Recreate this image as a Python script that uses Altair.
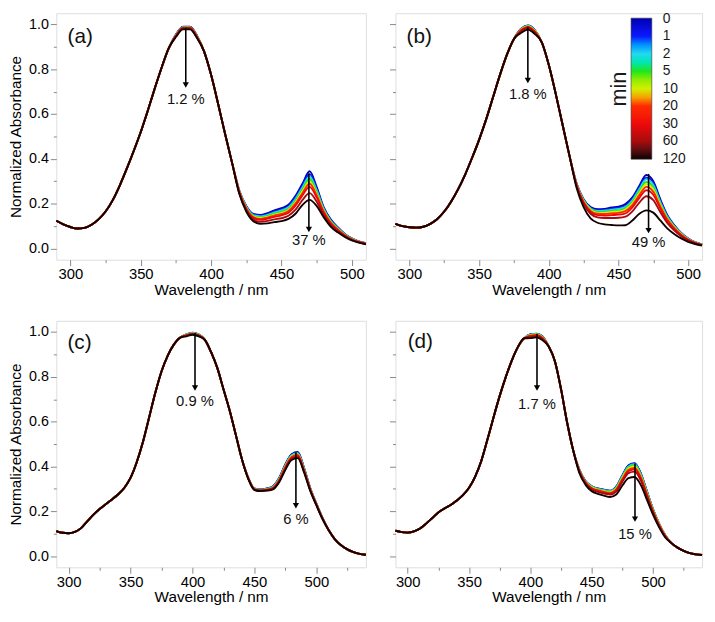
import altair as alt
import pandas as pd

FONT = "Liberation Sans"

TIMES = [0, 1, 2, 5, 10, 20, 30, 60, 120]
TIME_LABELS = ["0", "1", "2", "5", "10", "20", "30", "60", "120"]
COLORS = ["#0000b4", "#0a1aff", "#22d8f0", "#1ee61e", "#d2f000",
          "#ff2a00", "#ee0a0a", "#a80c0c", "#140000"]

# ---------------- panel (a) ----------------
WL_A = list(range(290, 515, 5))
BASE_A = [0.124, 0.108, 0.096, 0.089, 0.092, 0.106, 0.130, 0.165, 0.215, 0.280,
          0.355, 0.435, 0.520, 0.615, 0.715, 0.810, 0.895, 0.955, 0.990, 0.990,
          0.950, 0.880, 0.775, 0.645, 0.510, 0.380, 0.260, 0.190, 0.155, 0.150,
          0.158, 0.170, 0.180, 0.195, 0.235, 0.290, 0.345, 0.275, 0.185, 0.130,
          0.095, 0.065, 0.045, 0.032, 0.024]
PEAK_WL_A = [375, 380, 385, 390]
PEAK_A = {
    0: [0.955, 0.990, 0.990, 0.950],
    1: [0.954, 0.989, 0.989, 0.949],
    2: [0.953, 0.988, 0.988, 0.948],
    5: [0.952, 0.987, 0.987, 0.947],
    10: [0.951, 0.986, 0.986, 0.946],
    20: [0.950, 0.985, 0.985, 0.945],
    30: [0.949, 0.984, 0.984, 0.944],
    60: [0.947, 0.982, 0.982, 0.942],
    120: [0.944, 0.978, 0.978, 0.939],
}
BAND_WL_A = list(range(420, 515, 5))
BAND_A = {
    0: [0.260, 0.190, 0.155, 0.150, 0.158, 0.170, 0.180, 0.195, 0.235, 0.290, 0.345, 0.275, 0.185, 0.130, 0.095, 0.065, 0.045, 0.032, 0.024],
    1: [0.258, 0.188, 0.152, 0.146, 0.153, 0.165, 0.174, 0.189, 0.227, 0.281, 0.332, 0.267, 0.181, 0.127, 0.093, 0.064, 0.044, 0.031, 0.024],
    2: [0.257, 0.186, 0.149, 0.143, 0.150, 0.161, 0.170, 0.184, 0.221, 0.273, 0.322, 0.260, 0.177, 0.124, 0.091, 0.063, 0.043, 0.031, 0.023],
    5: [0.256, 0.183, 0.146, 0.139, 0.146, 0.156, 0.164, 0.178, 0.213, 0.264, 0.310, 0.252, 0.173, 0.121, 0.089, 0.061, 0.043, 0.030, 0.023],
    10: [0.255, 0.181, 0.143, 0.136, 0.141, 0.151, 0.159, 0.172, 0.206, 0.256, 0.299, 0.244, 0.169, 0.118, 0.087, 0.060, 0.042, 0.030, 0.022],
    20: [0.253, 0.179, 0.140, 0.132, 0.138, 0.147, 0.154, 0.167, 0.200, 0.248, 0.289, 0.238, 0.165, 0.116, 0.085, 0.059, 0.041, 0.029, 0.022],
    30: [0.252, 0.176, 0.137, 0.128, 0.133, 0.141, 0.148, 0.160, 0.191, 0.238, 0.275, 0.228, 0.160, 0.112, 0.082, 0.058, 0.040, 0.029, 0.021],
    60: [0.248, 0.171, 0.130, 0.119, 0.123, 0.130, 0.135, 0.146, 0.173, 0.217, 0.247, 0.210, 0.150, 0.105, 0.077, 0.055, 0.038, 0.027, 0.020],
    120: [0.245, 0.165, 0.122, 0.110, 0.112, 0.118, 0.122, 0.132, 0.155, 0.195, 0.217, 0.190, 0.140, 0.098, 0.072, 0.052, 0.036, 0.026, 0.019],
}

# ---------------- panel (b) ----------------
WL_B = list(range(290, 515, 5))
BASE_B = [0.110, 0.100, 0.095, 0.093, 0.097, 0.110, 0.132, 0.165, 0.210, 0.265,
          0.330, 0.405, 0.485, 0.575, 0.675, 0.775, 0.865, 0.935, 0.980, 0.995,
          0.975, 0.920, 0.820, 0.690, 0.550, 0.410, 0.290, 0.220, 0.185, 0.175,
          0.177, 0.183, 0.187, 0.198, 0.228, 0.280, 0.328, 0.300, 0.220, 0.150,
          0.105, 0.070, 0.045, 0.028, 0.018]
PEAK_WL_B = [380, 385, 390]
PEAK_B = {
    0: [0.980, 0.995, 0.975],
    1: [0.979, 0.994, 0.974],
    2: [0.978, 0.993, 0.973],
    5: [0.977, 0.992, 0.972],
    10: [0.976, 0.991, 0.971],
    20: [0.974, 0.989, 0.969],
    30: [0.972, 0.987, 0.967],
    60: [0.969, 0.984, 0.964],
    120: [0.962, 0.977, 0.957],
}
BAND_WL_B = list(range(420, 515, 5))
BAND_B = {
    0: [0.290, 0.220, 0.185, 0.175, 0.177, 0.183, 0.187, 0.198, 0.228, 0.280, 0.328, 0.300, 0.220, 0.150, 0.105, 0.070, 0.045, 0.028, 0.018],
    1: [0.289, 0.217, 0.181, 0.171, 0.172, 0.177, 0.181, 0.191, 0.220, 0.271, 0.316, 0.290, 0.213, 0.146, 0.102, 0.068, 0.044, 0.027, 0.018],
    2: [0.288, 0.216, 0.179, 0.168, 0.169, 0.173, 0.177, 0.186, 0.215, 0.265, 0.309, 0.283, 0.208, 0.143, 0.100, 0.067, 0.043, 0.027, 0.017],
    5: [0.286, 0.213, 0.175, 0.163, 0.163, 0.168, 0.170, 0.179, 0.208, 0.255, 0.297, 0.272, 0.201, 0.138, 0.097, 0.065, 0.042, 0.026, 0.017],
    10: [0.285, 0.211, 0.172, 0.159, 0.159, 0.163, 0.165, 0.174, 0.201, 0.248, 0.287, 0.264, 0.195, 0.134, 0.095, 0.064, 0.041, 0.026, 0.017],
    20: [0.283, 0.208, 0.168, 0.155, 0.154, 0.157, 0.159, 0.167, 0.194, 0.238, 0.275, 0.253, 0.188, 0.130, 0.092, 0.062, 0.040, 0.025, 0.016],
    30: [0.281, 0.205, 0.163, 0.149, 0.147, 0.149, 0.151, 0.157, 0.184, 0.226, 0.260, 0.240, 0.179, 0.124, 0.088, 0.059, 0.039, 0.025, 0.016],
    60: [0.278, 0.199, 0.155, 0.139, 0.136, 0.136, 0.137, 0.142, 0.166, 0.205, 0.233, 0.216, 0.163, 0.114, 0.081, 0.055, 0.036, 0.023, 0.015],
    120: [0.270, 0.185, 0.135, 0.115, 0.108, 0.105, 0.103, 0.104, 0.125, 0.155, 0.170, 0.160, 0.125, 0.090, 0.065, 0.045, 0.030, 0.020, 0.013],
}

# ---------------- panel (c) ----------------
WL_C = list(range(290, 545, 5))
BASE_C = [0.112, 0.104, 0.102, 0.108, 0.125, 0.155, 0.185, 0.210, 0.232, 0.253,
          0.276, 0.305, 0.350, 0.420, 0.510, 0.620, 0.730, 0.825, 0.895, 0.945,
          0.975, 0.990, 0.997, 0.990, 0.965, 0.910, 0.840, 0.745, 0.650, 0.540,
          0.430, 0.350, 0.302, 0.298, 0.302, 0.312, 0.350, 0.410, 0.455, 0.465,
          0.395, 0.305, 0.235, 0.170, 0.115, 0.075, 0.048, 0.030, 0.018, 0.010,
          0.006]
PEAK_WL_C = [395, 400, 405]
PEAK_C = {
    0: [0.990, 0.997, 0.990],
    1: [0.989, 0.996, 0.989],
    2: [0.989, 0.995, 0.989],
    5: [0.988, 0.994, 0.988],
    10: [0.987, 0.994, 0.987],
    20: [0.986, 0.993, 0.986],
    30: [0.985, 0.992, 0.985],
    60: [0.984, 0.990, 0.984],
    120: [0.981, 0.988, 0.981],
}
BAND_WL_C = list(range(445, 510, 5))
BAND_C = {
    0: [0.350, 0.302, 0.298, 0.302, 0.312, 0.350, 0.410, 0.455, 0.465, 0.395, 0.305, 0.235, 0.170],
    1: [0.350, 0.301, 0.297, 0.301, 0.311, 0.348, 0.408, 0.452, 0.462, 0.393, 0.304, 0.234, 0.170],
    2: [0.349, 0.301, 0.296, 0.300, 0.309, 0.346, 0.405, 0.450, 0.459, 0.391, 0.302, 0.233, 0.169],
    5: [0.349, 0.300, 0.296, 0.299, 0.308, 0.344, 0.403, 0.447, 0.457, 0.389, 0.301, 0.233, 0.169],
    10: [0.348, 0.299, 0.295, 0.298, 0.306, 0.342, 0.400, 0.445, 0.454, 0.387, 0.300, 0.232, 0.168],
    20: [0.348, 0.299, 0.294, 0.297, 0.305, 0.340, 0.398, 0.442, 0.451, 0.385, 0.299, 0.231, 0.168],
    30: [0.347, 0.298, 0.293, 0.296, 0.304, 0.338, 0.395, 0.439, 0.448, 0.383, 0.297, 0.230, 0.167],
    60: [0.346, 0.296, 0.292, 0.294, 0.301, 0.334, 0.390, 0.434, 0.443, 0.379, 0.295, 0.229, 0.166],
    120: [0.345, 0.295, 0.290, 0.292, 0.298, 0.330, 0.385, 0.429, 0.437, 0.375, 0.292, 0.227, 0.165],
}

# ---------------- panel (d) ----------------
WL_D = list(range(290, 545, 5))
BASE_D = [0.113, 0.107, 0.105, 0.110, 0.123, 0.145, 0.170, 0.195, 0.213, 0.228,
          0.248, 0.272, 0.305, 0.355, 0.425, 0.520, 0.620, 0.715, 0.800, 0.875,
          0.935, 0.972, 0.990, 0.993, 0.980, 0.935, 0.870, 0.745, 0.595, 0.470,
          0.385, 0.335, 0.312, 0.302, 0.296, 0.292, 0.310, 0.360, 0.405, 0.415,
          0.370, 0.290, 0.210, 0.145, 0.093, 0.058, 0.038, 0.023, 0.013, 0.008,
          0.005]
PEAK_WL_D = [400, 405, 410]
PEAK_D = {
    0: [0.990, 0.993, 0.980],
    1: [0.989, 0.992, 0.979],
    2: [0.988, 0.991, 0.978],
    5: [0.987, 0.990, 0.977],
    10: [0.986, 0.989, 0.976],
    20: [0.984, 0.987, 0.974],
    30: [0.982, 0.985, 0.972],
    60: [0.979, 0.982, 0.969],
    120: [0.973, 0.976, 0.963],
}
BAND_WL_D = list(range(440, 515, 5))
BAND_D = {
    0: [0.385, 0.335, 0.312, 0.302, 0.296, 0.292, 0.310, 0.360, 0.405, 0.415, 0.370, 0.290, 0.210, 0.145, 0.093],
    1: [0.385, 0.334, 0.311, 0.301, 0.295, 0.291, 0.309, 0.359, 0.403, 0.413, 0.368, 0.289, 0.209, 0.144, 0.093],
    2: [0.384, 0.334, 0.310, 0.300, 0.294, 0.290, 0.307, 0.356, 0.400, 0.410, 0.366, 0.287, 0.208, 0.144, 0.092],
    5: [0.383, 0.332, 0.309, 0.298, 0.292, 0.288, 0.305, 0.353, 0.396, 0.406, 0.362, 0.284, 0.206, 0.142, 0.092],
    10: [0.381, 0.331, 0.307, 0.296, 0.290, 0.285, 0.301, 0.349, 0.391, 0.400, 0.357, 0.281, 0.204, 0.141, 0.091],
    20: [0.380, 0.329, 0.304, 0.294, 0.287, 0.282, 0.298, 0.344, 0.385, 0.393, 0.352, 0.277, 0.201, 0.139, 0.090],
    30: [0.378, 0.327, 0.302, 0.291, 0.284, 0.279, 0.294, 0.340, 0.379, 0.387, 0.347, 0.273, 0.199, 0.137, 0.089],
    60: [0.376, 0.324, 0.298, 0.287, 0.280, 0.275, 0.288, 0.332, 0.370, 0.377, 0.338, 0.266, 0.195, 0.134, 0.087],
    120: [0.370, 0.318, 0.290, 0.278, 0.270, 0.264, 0.275, 0.315, 0.348, 0.353, 0.318, 0.252, 0.185, 0.128, 0.083],
}

# annotations: arrow x, arrow top, arrow bottom, label, label y
ARROWS_A = [(382.0, 0.985, 0.73, "1.2 %", 0.668), (469.5, 0.335, 0.085, "37 %", 0.037)]
ARROWS_B = [(385.0, 0.990, 0.75, "1.8 %", 0.690), (471.6, 0.333, 0.080, "49 %", 0.027)]
ARROWS_C = [(402.0, 0.995, 0.75, "0.9 %", 0.690), (483.5, 0.464, 0.225, "6 %", 0.165)]
ARROWS_D = [(405.4, 0.992, 0.75, "1.7 %", 0.680), (485.3, 0.413, 0.165, "15 %", 0.098)]
PANEL_TAGS = [("(a)", 298, 0.945), ("(b)", 298, 0.945), ("(c)", 299, 0.950), ("(d)", 300, 0.955)]


def build_rows(wl, base, peak_wl, peak, band_wl, band):
    rows = []
    for i, t in enumerate(TIMES):
        for j, w in enumerate(wl):
            v = base[j]
            if w in peak_wl:
                v = peak[t][peak_wl.index(w)]
            if w in band_wl:
                v = band[t][band_wl.index(w)]
            rows.append({"wl": w, "v": v, "k": 8 - i, "t": t})
    return pd.DataFrame(rows)


REV = list(reversed(COLORS))
color_enc = alt.Color(
    "k:Q",
    scale=alt.Scale(domain=[-0.03] + list(range(9)) + [8.03],
                    range=[REV[0]] + REV + [REV[-1]]),
    legend=alt.Legend(
        orient="none", legendX=560, legendY=5, direction="vertical",
        values=list(range(9)),
        labelExpr="[" + ",".join("'%s'" % s for s in reversed(TIME_LABELS)) + "][datum.value]",
        gradientLength=143, gradientThickness=21,
        gradientStrokeColor="#333333", gradientStrokeWidth=0.6,
        labelFontSize=14, labelFont=FONT, labelOffset=11, labelBaseline="middle",
        labelOverlap=False, labelColor="#1a1a1a",
        title="min", titleOrient="left", titleFontSize=22,
        titleFont=FONT, titleFontWeight="normal", titlePadding=0, titleColor="#1a1a1a",
    ),
)


def panel(df, arrows, tag, xmax, xminor, width, height, show_y):
    xs = alt.Scale(domain=[290, xmax], nice=False, zero=False)
    ys = alt.Scale(domain=[-0.05, 1.05], nice=False, zero=False)
    x_major = alt.Axis(values=[300, 350, 400, 450, 500], tickSize=6, labelFontSize=15,
                       labelPadding=1, title="Wavelength / nm", titleFontSize=15.5,
                       titleFontWeight="normal", titlePadding=1, domain=False,
                       grid=False, orient="bottom")
    x_minor = alt.Axis(values=xminor, tickSize=3, labels=False, title=None, domain=False,
                       grid=False, orient="bottom")
    y_major = alt.Axis(values=[0, 0.2, 0.4, 0.6, 0.8, 1.0], format=".1f", tickSize=6,
                       labels=show_y, labelFontSize=14.5, labelPadding=2,
                       title="Normalized Absorbance" if show_y else None,
                       titleFontSize=15.5, titleFontWeight="normal", titlePadding=5,
                       domain=False, grid=False, orient="left")
    y_minor = alt.Axis(values=[0.1, 0.3, 0.5, 0.7, 0.9], tickSize=3, labels=False,
                       title=None, domain=False, grid=False, orient="left")

    lines = alt.Chart(df).mark_line(strokeWidth=1.9, interpolate="monotone").encode(
        x=alt.X("wl:Q", scale=xs, axis=x_major),
        y=alt.Y("v:Q", scale=ys, axis=y_major),
        color=color_enc,
        detail="k:Q",
    )
    adf = pd.DataFrame([{"x": a[0], "ytop": a[1], "ybot": a[2], "label": a[3], "ly": a[4]}
                        for a in arrows])
    rules = alt.Chart(adf).mark_rule(strokeWidth=1.6, color="black").encode(
        x=alt.X("x:Q", scale=xs, axis=x_minor),
        y=alt.Y("ytop:Q", scale=ys, axis=y_minor),
        y2="ybot:Q",
    )
    heads = alt.Chart(adf).mark_point(shape="triangle-down", filled=True, size=40,
                                      color="black", opacity=1).encode(
        x=alt.X("x:Q", scale=xs, axis=None),
        y=alt.Y("ybot:Q", scale=ys, axis=None),
    )
    texts = alt.Chart(adf).mark_text(fontSize=15, font=FONT, baseline="middle",
                                     color="#111111").encode(
        x=alt.X("x:Q", scale=xs, axis=None),
        y=alt.Y("ly:Q", scale=ys, axis=None),
        text="label:N",
    )
    tdf = pd.DataFrame([{"x": tag[1], "y": tag[2], "s": tag[0]}])
    tagm = alt.Chart(tdf).mark_text(fontSize=21, font=FONT, align="left",
                                    baseline="middle", color="#111111").encode(
        x=alt.X("x:Q", scale=xs, axis=None),
        y=alt.Y("y:Q", scale=ys, axis=None),
        text="s:N",
    )
    return alt.layer(lines, rules, heads, texts, tagm).resolve_axis(
        x="independent", y="independent"
    ).properties(width=width, height=height)


H = 250
pa = panel(build_rows(WL_A, BASE_A, PEAK_WL_A, PEAK_A, BAND_WL_A, BAND_A), ARROWS_A,
           PANEL_TAGS[0], 510, [325, 375, 425, 475], 314, H, True)
pb = panel(build_rows(WL_B, BASE_B, PEAK_WL_B, PEAK_B, BAND_WL_B, BAND_B), ARROWS_B,
           PANEL_TAGS[1], 510, [325, 375, 425, 475], 311, H, False)
pc = panel(build_rows(WL_C, BASE_C, PEAK_WL_C, PEAK_C, BAND_WL_C, BAND_C), ARROWS_C,
           PANEL_TAGS[2], 540, [325, 375, 425, 475, 525], 314, H, True)
pd_ = panel(build_rows(WL_D, BASE_D, PEAK_WL_D, PEAK_D, BAND_WL_D, BAND_D), ARROWS_D,
            PANEL_TAGS[3], 540, [325, 375, 425, 475, 525], 311, H, False)

chart = alt.vconcat(
    alt.hconcat(pa, pb, spacing=18),
    alt.hconcat(pc, pd_, spacing=18),
    spacing=22,
).properties(padding=0).configure_view(
    stroke="#444444", strokeWidth=1
).configure_axis(
    labelFont=FONT, titleFont=FONT, labelColor="#1a1a1a", titleColor="#1a1a1a",
    tickColor="#444444", tickWidth=1
).configure(background="white")

chart.save("out.html", embed_options={"renderer": "svg", "actions": False})
